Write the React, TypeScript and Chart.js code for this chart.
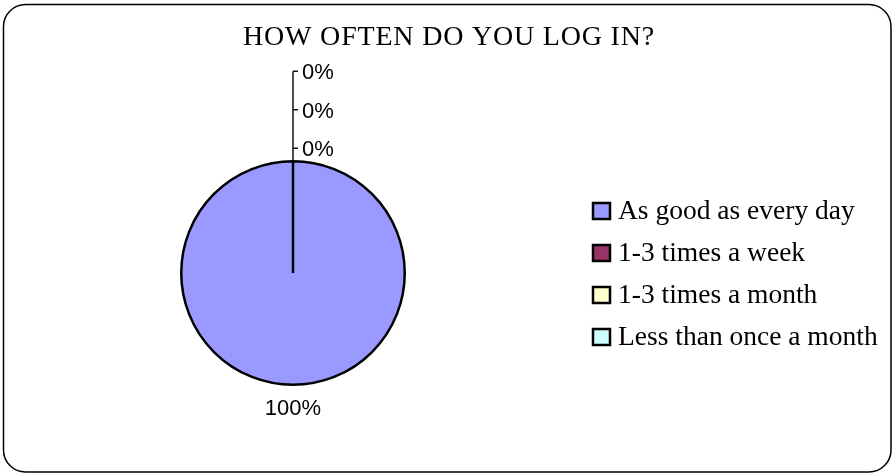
import React, { useEffect, useRef } from "react";
import { Chart, registerables } from "chart.js";

Chart.register(...registerables);

const chartTitle = "HOW OFTEN DO YOU LOG IN?";
const categories = [
  "As good as every day",
  "1-3 times a week",
  "1-3 times a month",
  "Less than once a month",
];
const values = [100, 0, 0, 0];
const colors = ["#9999FF", "#993366", "#FFFFCC", "#CCFFFF"];

const SERIF = '"Liberation Serif", "Times New Roman", serif';
const SANS = '"Liberation Sans", Arial, sans-serif';

const decorPlugin = {
  id: "decor",
  beforeDraw(chart: any) {
    const ctx = chart.ctx;
    ctx.save();
    ctx.fillStyle = "#ffffff";
    ctx.fillRect(0, 0, chart.width, chart.height);
    // rounded outer border
    const x0 = 3.5, y0 = 4.5, x1 = 891, y1 = 472, r = 22;
    ctx.beginPath();
    ctx.moveTo(x0 + r, y0);
    ctx.lineTo(x1 - r, y0);
    ctx.arcTo(x1, y0, x1, y0 + r, r);
    ctx.lineTo(x1, y1 - r);
    ctx.arcTo(x1, y1, x1 - r, y1, r);
    ctx.lineTo(x0 + r, y1);
    ctx.arcTo(x0, y1, x0, y1 - r, r);
    ctx.lineTo(x0, y0 + r);
    ctx.arcTo(x0, y0, x0 + r, y0, r);
    ctx.closePath();
    ctx.lineWidth = 1.5;
    ctx.strokeStyle = "#000";
    ctx.stroke();
    ctx.restore();
  },
  afterDraw(chart: any) {
    const ctx = chart.ctx;
    ctx.save();
    // title
    ctx.fillStyle = "#000";
    ctx.font = `28px ${SERIF}`;
    (ctx as any).letterSpacing = "0.8px";
    ctx.textAlign = "center";
    ctx.textBaseline = "middle";
    ctx.fillText(chartTitle, 449, 38);
    (ctx as any).letterSpacing = "0px";

    // legend
    const lx = 593, ly0 = 203, step = 42;
    categories.forEach((c, i) => {
      const y = ly0 + i * step;
      ctx.fillStyle = colors[i];
      ctx.fillRect(lx, y, 17, 16);
      ctx.lineWidth = 2.5;
      ctx.strokeStyle = "#000";
      ctx.strokeRect(lx, y, 17, 16);
      ctx.fillStyle = "#000";
      ctx.font = `27.5px ${SERIF}`;
      ctx.textAlign = "left";
      ctx.textBaseline = "middle";
      ctx.fillText(c, 618, y + 9);
    });

    // data labels
    const meta = chart.getDatasetMeta(0);
    const total = values.reduce((a, b) => a + b, 0);
    const first = meta.data[0];
    const { x: cx, y: cy, outerRadius } = first.getProps(["x", "y", "outerRadius"], true);
    const top = cy - outerRadius;
    ctx.font = `22px ${SANS}`;
    ctx.fillStyle = "#000";
    ctx.strokeStyle = "#000";
    ctx.lineWidth = 1.4;
    let zeroCount = 0;
    const zeroIdx: number[] = [];
    values.forEach((v, i) => { if (v === 0) zeroIdx.push(i); });
    values.forEach((v, i) => {
      const pct = Math.round((v / total) * 100) + "%";
      if (v === 0) {
        const k = zeroCount++;
        const ty = top - 13 - k * 38.5;
        ctx.beginPath();
        ctx.moveTo(cx, ty);
        ctx.lineTo(cx + 5, ty);
        ctx.stroke();
        ctx.textAlign = "left";
        ctx.textBaseline = "middle";
        ctx.fillText(pct, cx + 9, ty + 2);
      } else {
        const el = meta.data[i];
        const p = el.getProps(["startAngle", "endAngle"], true);
        const mid = (p.startAngle + p.endAngle) / 2;
        const rr = outerRadius + 24;
        ctx.textAlign = "center";
        ctx.textBaseline = "middle";
        ctx.fillText(pct, cx + Math.cos(mid) * rr, cy + Math.sin(mid) * rr);
      }
    });
    if (zeroIdx.length) {
      const topTick = top - 13 - (zeroIdx.length - 1) * 38.5;
      ctx.beginPath();
      ctx.moveTo(cx, top);
      ctx.lineTo(cx, topTick);
      ctx.stroke();
    }
    ctx.restore();
  },
};

export default function App() {
  const ref = useRef<HTMLCanvasElement | null>(null);
  useEffect(() => {
    if (!ref.current) return;
    const chart = new Chart(ref.current, {
      type: "pie",
      data: {
        labels: categories,
        datasets: [
          {
            data: values,
            backgroundColor: colors,
            borderColor: "#000",
            borderWidth: 2.5,
          },
        ],
      },
      options: {
        animation: false,
        responsive: false,
        devicePixelRatio: 1,
        layout: { padding: { left: 180, right: 487, top: 160, bottom: 89 } },
        plugins: {
          legend: { display: false },
          title: { display: false },
          tooltip: { enabled: false },
        },
      },
      plugins: [decorPlugin],
    });
    return () => chart.destroy();
  }, []);
  return (
    <div style={{ position: "absolute", left: 0, top: 0, width: 893, height: 475 }}>
      <canvas ref={ref} width={893} height={475} />
    </div>
  );
}
